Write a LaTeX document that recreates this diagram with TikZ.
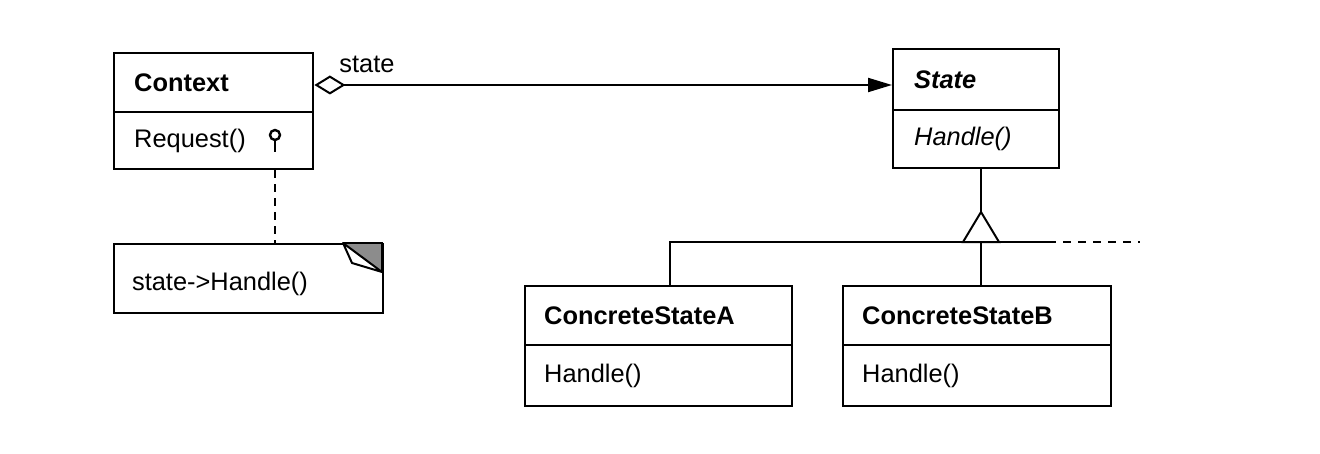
\documentclass[tikz,border=0pt]{standalone}
\usepackage{fontspec}
\setmainfont{Liberation Sans}
\usetikzlibrary{arrows.meta,calc}
\begin{document}
\begin{tikzpicture}[x=0.5pt,y=-0.5pt,
  txt/.style={font=\fontsize{12.7}{15}\selectfont},
  comp/.style={draw, line width=1.2pt, anchor=north west, inner ysep=0pt,
    inner xsep=10pt, align=left, txt},
  conn/.style={line width=1pt},
  notedash/.style={line width=1pt, dash pattern=on 4pt off 3pt}]
\useasboundingbox[fill=white] (0,0) rectangle (1320,454);

% Context
\node[comp, text width=79.5pt, minimum height=29.5pt] (ctxT) at (113,52) {\bfseries Context};
\node[comp, text width=79.5pt, minimum height=28.5pt] (ctxM) at (113,111) {Request()};
% State
\node[comp, text width=62pt, minimum height=30.5pt, inner xsep=10.5pt] (stT) at (892,48) {\bfseries\itshape State};
\node[comp, text width=62pt, minimum height=29pt, inner xsep=10.5pt] (stM) at (892,109) {\itshape Handle()};
% ConcreteStateA
\node[comp, text width=114.5pt, minimum height=29.5pt, inner xsep=9.5pt] (caT) at (524,285) {\bfseries ConcreteStateA};
\node[comp, text width=114.5pt, minimum height=30.5pt, inner xsep=9.5pt] (caM) at (524,344) {Handle()};
% ConcreteStateB
\node[comp, text width=115pt, minimum height=29.5pt, inner xsep=9.5pt] (cbT) at (842,285) {\bfseries ConcreteStateB};
\node[comp, text width=115pt, minimum height=30.5pt, inner xsep=9.5pt] (cbM) at (842,344) {Handle()};
% Note
\node[draw, line width=1.2pt, anchor=north west, minimum width=134.5pt, minimum height=34.5pt,
  inner sep=0pt] (note) at (113,243) {};
\node[txt, anchor=west] (notetext) at (125,284) {state->Handle()};
\fill[black!45] (343,243) -- (382,243) -- (382,272) -- cycle;
\draw[line width=1pt, line join=round, fill=white] (343,243) -- (352,263) -- (382,272) -- cycle;
\draw[line width=1.2pt] (343,243) -- (382,243) -- (382,272);

% association
\coordinate (ay) at (0,85);
\draw[conn, {Diamond[open, fill=white, length=15.5pt, width=9.5pt]}-{Triangle[length=12pt, width=7pt]}]
  (ctxT.east |- ay) -- (stT.west |- ay);
\node[txt] (statelbl) at (367,64) {state};

% pin and note link
\coordinate (pin) at (275,135);
\coordinate (pinb) at (275,140);
\coordinate (pinc) at (275,152);
\draw[line width=1.2pt] (pin) circle[radius=5];
\draw[line width=1.2pt] (pinb) -- (pinc);
\draw[notedash] (ctxM.south -| pin) -- (note.north -| pin);

% inheritance
\coordinate (apex) at (981,212);
\coordinate (bar) at (0,242);
\coordinate (ax) at (670,242);
\coordinate (bl) at (963,242);
\coordinate (br) at (999,242);
\coordinate (be) at (1048,242);
\coordinate (bd) at (1140,242);
\draw[conn] (stM.south -| apex) -- (apex);
\draw[conn] (apex) -- (bl) -- (br) -- cycle;
\draw[conn] (caT.north -| ax) -- (ax) -- (be);
\draw[conn, dash pattern=on 4pt off 3.5pt] (be) -- (bd);
\draw[conn] (apex |- bar) -- (cbT.north -| apex);
\end{tikzpicture}
\end{document}
